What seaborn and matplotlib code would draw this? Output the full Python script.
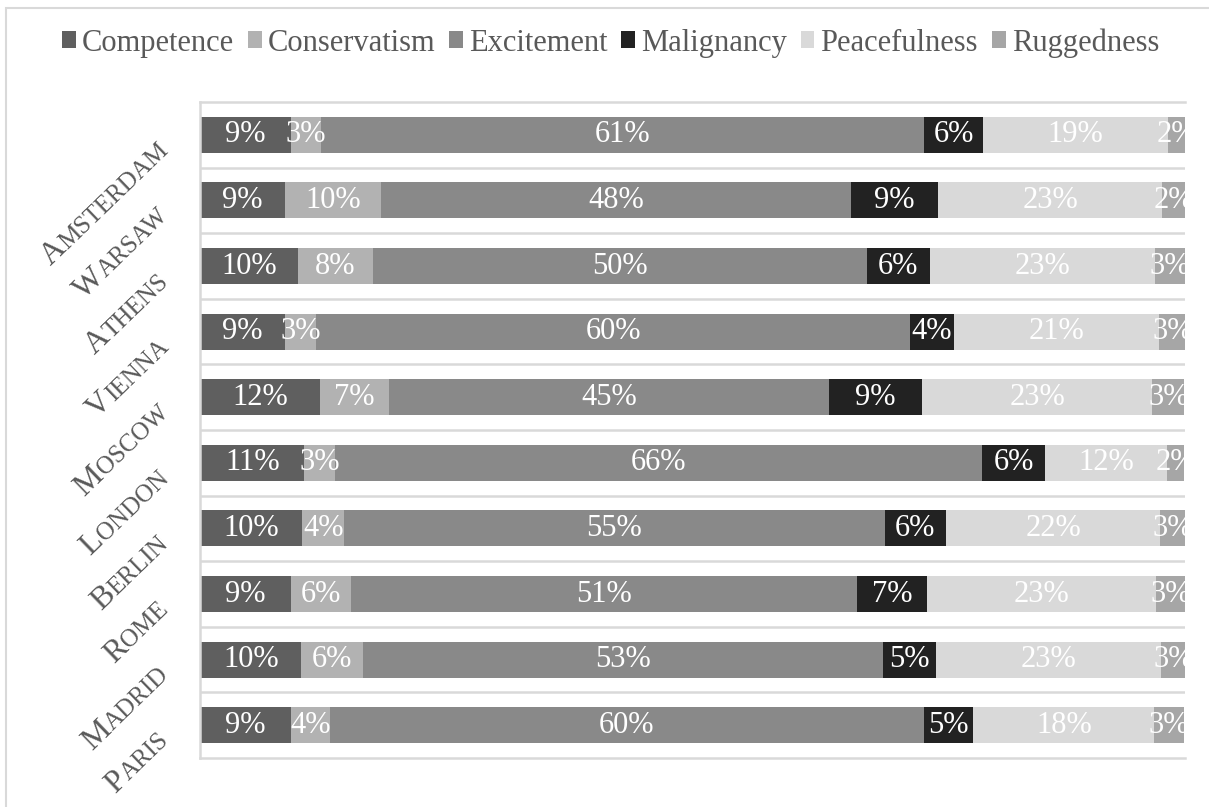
import matplotlib
matplotlib.use("Agg")
import matplotlib.pyplot as plt
import numpy as np
import pandas as pd
import seaborn as sns
from matplotlib.font_manager import FontProperties
from matplotlib.patches import Rectangle
from matplotlib.textpath import TextToPath

cities = ["Amsterdam", "Warsaw", "Athens", "Vienna", "Moscow",
          "London", "Berlin", "Rome", "Madrid", "Paris"]
traits = ["Competence", "Conservatism", "Excitement", "Malignancy", "Peacefulness", "Ruggedness"]

# share of each trait per city, in percent
competence = [9.2, 8.6, 9.9, 8.6, 12.2, 10.6, 10.4, 9.2, 10.3, 9.2]
conservatism = [3.1, 9.8, 7.7, 3.2, 7.0, 3.1, 4.2, 6.1, 6.2, 4.0]
excitement = [61.2, 47.7, 50.1, 60.3, 44.7, 65.7, 54.9, 51.4, 52.8, 60.3]
malignancy = [6.0, 8.8, 6.4, 4.4, 9.4, 6.4, 6.2, 7.1, 5.4, 5.0]
peacefulness = [18.8, 22.8, 22.9, 20.9, 23.4, 12.4, 21.8, 23.3, 22.9, 18.4]
ruggedness = [1.7, 2.3, 3.0, 2.7, 3.2, 1.7, 2.6, 2.9, 2.6, 3.0]

colors = ["#5f5f5f", "#b2b2b2", "#898989", "#222222", "#d9d9d9", "#a6a6a6"]
text_color = "#595959"
grid_color = "#d9d9d9"
serif = "Liberation Serif"

df = pd.DataFrame({"city": cities, "Competence": competence, "Conservatism": conservatism,
                   "Excitement": excitement, "Malignancy": malignancy,
                   "Peacefulness": peacefulness, "Ruggedness": ruggedness})
cum = df[traits].cumsum(axis=1)

sns.set_theme(style="white")
plt.rcParams["font.family"] = [serif, "DejaVu Serif"]

fig = plt.figure(figsize=(12.09, 8.07), dpi=100)
ax = fig.add_axes([200 / 1209, 1 - 758 / 807, 985 / 1209, 656 / 807])

# stacked bars: draw cumulative totals from the last trait back to the first
for trait, color in reversed(list(zip(traits, colors))):
    sns.barplot(x=cum[trait], y=df["city"], orient="h", color=color, width=0.55,
                saturation=1, linewidth=0, ax=ax)

for trait in traits:
    starts = cum[trait] - df[trait]
    for i, (s, v) in enumerate(zip(starts, df[trait])):
        ax.text(s + v / 2, i, f"{v:.0f}%", ha="center", va="center", color="white",
                fontsize=22, family=serif, clip_on=True)

ax.set_xlim(0, 100)
ax.set_ylim(9.5, -0.5)
ax.set_xlabel("")
ax.set_ylabel("")
ax.set_xticks([])
ax.set_yticks(range(len(cities)))
ax.set_yticklabels([])
ax.set_yticks(np.arange(0.5, len(cities) - 1), minor=True)
ax.tick_params(axis="both", which="both", length=0)
ax.grid(True, axis="y", which="minor", color=grid_color, linewidth=1.8)
for side in ["left", "top", "bottom"]:
    ax.spines[side].set_color(grid_color)
    ax.spines[side].set_linewidth(1.8)
ax.spines["right"].set_visible(False)

# city names in small caps, rotated
angle = 44
big_size, small_size = 23, 18
t2p = TextToPath()
cos_a, sin_a = np.cos(np.radians(angle)), np.sin(np.radians(angle))
anchor_dx, anchor_dy = -22, -12
for i, name in enumerate(cities):
    tail = name[1:].upper()
    prop = FontProperties(family=serif, size=small_size)
    w, _, _ = t2p.get_text_width_height_descent(tail, prop, ismath=False)
    ax.annotate(tail, xy=(0, i), xycoords=ax.get_yaxis_transform(),
                xytext=(anchor_dx, anchor_dy), textcoords="offset points",
                ha="right", va="baseline", rotation=angle, rotation_mode="anchor",
                fontsize=small_size, family=serif, color=text_color)
    gap = w + 0.3
    ax.annotate(name[0], xy=(0, i), xycoords=ax.get_yaxis_transform(),
                xytext=(anchor_dx - gap * cos_a, anchor_dy - gap * sin_a),
                textcoords="offset points",
                ha="right", va="baseline", rotation=angle, rotation_mode="anchor",
                fontsize=big_size, family=serif, color=text_color)

handles = [Rectangle((0, 0), 1, 1, facecolor=c, edgecolor="none") for c in colors]
fig.legend(handles, traits, loc="center", bbox_to_anchor=(0.505, 0.947), ncol=6,
           frameon=False, fontsize=22, labelcolor=text_color,
           handlelength=0.45, handleheight=0.45, handletextpad=0.2, columnspacing=0.45)

fig.patches.append(Rectangle((6 / 1209, -0.1), 1.2, 1.1 - 8 / 807, transform=fig.transFigure,
                             fill=False, edgecolor=grid_color, linewidth=1.5))

fig.savefig("out.png", dpi=100)
